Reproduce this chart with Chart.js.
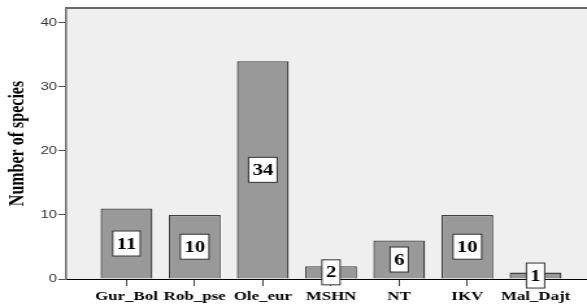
<!DOCTYPE html>
<html><head><meta charset="utf-8">
<script src="https://cdn.jsdelivr.net/npm/chart.js@4"></script>
<style>html,body{margin:0;padding:0;background:#fff;overflow:hidden}</style>
</head><body>
<canvas id="c" width="452" height="308" style="display:block;width:587px;height:308px"></canvas>
<script>
const categories = ['Gur_Bol', 'Rob_pse', 'Ole_eur', 'MSHN', 'NT', 'IKV', 'Mal_Dajt'];
const speciesCounts = [11, 10, 34, 2, 6, 10, 1];
const yTickValues = [0, 10, 20, 30, 40];
const yAxisTitle = 'Number of species';

const bgPlugin = {
  id: 'bg',
  beforeDraw(chart) {
    const {ctx, chartArea: a} = chart;
    ctx.save();
    ctx.fillStyle = '#efefef';
    ctx.fillRect(a.left, a.top, a.right - a.left, a.bottom - a.top);
    ctx.restore();
  },
  afterDraw(chart) {
    const {ctx, chartArea: a} = chart;
    ctx.save();
    ctx.strokeStyle = '#6a6a6a';
    ctx.lineWidth = 1.8;
    ctx.beginPath();
    ctx.moveTo(a.left, a.top);
    ctx.lineTo(a.right, a.top);
    ctx.stroke();
    ctx.restore();
  }
};

const labelPlugin = {
  id: 'valueBoxes',
  afterDatasetsDraw(chart) {
    const ctx = chart.ctx;
    const meta = chart.getDatasetMeta(0);
    const data = chart.data.datasets[0].data;
    ctx.save();
    ctx.font = 'bold 16px "Liberation Serif"';
    meta.data.forEach((bar, i) => {
      const txt = String(data[i].y);
      const tw = ctx.measureText(txt).width;
      const w = tw + 6, h = 25;
      const cx = bar.x, cy = (bar.y + bar.base) / 2;
      ctx.fillStyle = '#ffffff';
      ctx.fillRect(cx - w / 2, cy - h / 2, w, h);
      ctx.strokeStyle = '#333333';
      ctx.lineWidth = 1;
      ctx.strokeRect(cx - w / 2, cy - h / 2, w, h);
      ctx.fillStyle = '#000000';
      ctx.textAlign = 'center';
      ctx.textBaseline = 'middle';
      ctx.fillText(txt, cx, cy + 1);
    });
    ctx.restore();
  }
};

new Chart(document.getElementById('c'), {
  type: 'bar',
  data: {
    datasets: [{
      data: categories.map((c, i) => ({x: i, y: speciesCounts[i]})),
      backgroundColor: '#999999',
      borderColor: '#404040',
      borderWidth: 1.3,
      barPercentage: 0.76,
      categoryPercentage: 1
    }]
  },
  options: {
    responsive: false,
    animation: false,
    devicePixelRatio: 1,
    layout: {padding: {top: 8, right: 0, left: 0, bottom: 0}},
    plugins: {legend: {display: false}, tooltip: {enabled: false}},
    scales: {
      x: {
        type: 'linear',
        min: -0.884,
        max: 6.755,
        offset: false,
        afterBuildTicks: s => { s.ticks = categories.map((c, i) => ({value: i})); },
        afterFit: s => { s.height = 29; },
        ticks: {
          callback: v => categories[v] ?? '',
          font: {family: '"Liberation Serif"', size: 13, weight: 'bold'},
          color: '#000',
          padding: 3,
          maxRotation: 0,
          autoSkip: false
        },
        grid: {display: true, drawOnChartArea: false, offset: false, tickLength: 7, color: '#444'},
        border: {display: true, color: '#000', width: 1}
      },
      y: {
        min: 0,
        max: 42.3,
        afterBuildTicks: s => { s.ticks = yTickValues.map(v => ({value: v})); },
        afterFit: s => { s.width = 51; },
        ticks: {
          font: {family: '"Liberation Sans"', size: 11.5},
          color: '#333',
          padding: 1
        },
        grid: {display: true, drawOnChartArea: false, tickLength: 6, color: '#555'},
        border: {display: true, color: '#666', width: 1.5},
        title: {
          display: true,
          text: yAxisTitle,
          font: {family: '"Liberation Serif"', size: 16, weight: 'bold'},
          color: '#000',
          padding: {top: 4, bottom: 0}
        }
      }
    }
  },
  plugins: [bgPlugin, labelPlugin]
});
</script>
</body></html>
